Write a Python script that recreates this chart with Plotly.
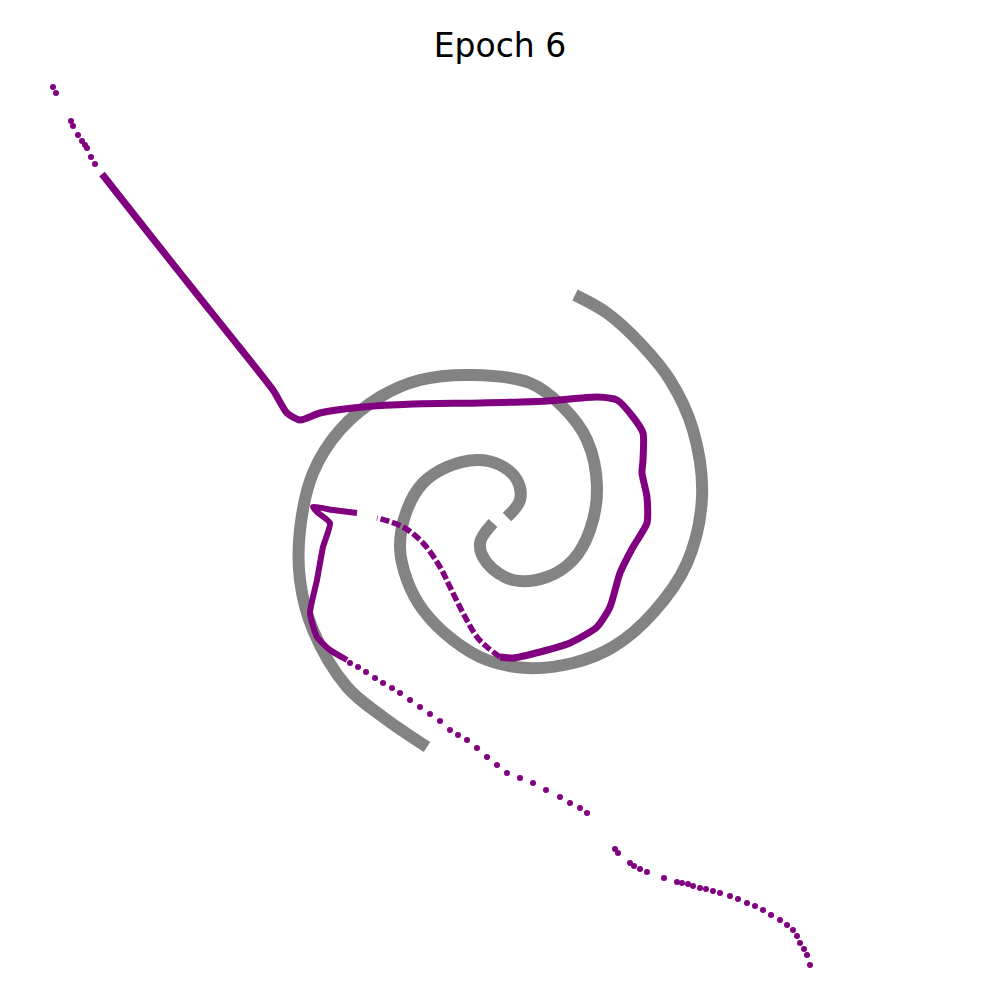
import plotly.graph_objects as go

# Coordinates (x to the right, y downward, 0..1000)
arm_a_x = [507, 520, 517, 500, 477, 447, 423, 407, 400, 407, 423, 453, 487, 527, 573, 613, 653, 687, 702, 693, 670, 640, 607, 575]
arm_a_y = [517, 500, 480, 465, 460, 467, 483, 510, 547, 580, 610, 640, 660, 668, 663, 647, 613, 563, 497, 430, 380, 343, 313, 295]

arm_b_x = [493, 480, 487, 513, 547, 573, 590, 597, 587, 563, 530, 473, 420, 380, 340, 313, 300, 300, 313, 347, 383, 427]
arm_b_y = [523, 543, 563, 580, 577, 560, 530, 487, 440, 407, 383, 375, 380, 397, 430, 473, 530, 580, 630, 687, 717, 747]

dots_top_x = [53, 56, 71, 73, 78, 82, 85, 87, 91, 95]
dots_top_y = [87, 93, 121, 126, 135, 141, 145, 148, 157, 164]

main_x = [102, 150, 200, 240, 273, 287, 300, 320, 363, 413, 480, 547, 597, 617, 633, 643, 643, 642, 647, 647, 633, 620, 610, 597, 570, 540, 513, 500]
main_y = [174, 235, 298, 348, 390, 413, 420, 413, 407, 404, 403, 401, 397, 400, 417, 433, 460, 473, 497, 523, 547, 573, 607, 627, 643, 652, 658, 657]

dash_x = [500, 487, 477, 463, 450, 440, 423, 403, 377]
dash_y = [657, 647, 637, 613, 587, 567, 543, 527, 518]

hook_x = [357, 333, 313, 317, 330, 323, 317, 310, 317, 330, 347]
hook_y = [513, 510, 507, 512, 523, 547, 580, 613, 637, 650, 660]

tail_x = [350, 358, 366, 375, 383, 392, 400, 410, 420, 430, 440, 450, 458, 467, 477, 487, 497, 507, 520, 533, 546, 560, 570, 580, 587]
tail_y = [663, 667, 672, 678, 683, 688, 693, 700, 707, 714, 721, 730, 735, 740, 748, 757, 765, 773, 778, 783, 790, 797, 803, 808, 813]

end_x = [615, 618, 630, 634, 640, 647, 664, 677, 682, 688, 693, 700, 706, 713, 720, 730, 738, 747, 755, 763, 771, 780, 787, 793, 797, 800, 804, 807, 810]
end_y = [849, 853, 863, 866, 869, 872, 878, 882, 883, 884, 886, 888, 889, 891, 893, 896, 899, 903, 906, 910, 915, 920, 925, 930, 936, 943, 949, 955, 965]

GRAY = "#808080"
PURPLE = "#800080"

fig = go.Figure()
for xs, ys in [(arm_a_x, arm_a_y), (arm_b_x, arm_b_y)]:
    fig.add_trace(go.Scatter(x=xs, y=ys, mode="lines",
                             line=dict(color=GRAY, width=12, shape="spline", smoothing=1.0),
                             opacity=0.97, hoverinfo="skip", showlegend=False))

fig.add_trace(go.Scatter(x=main_x, y=main_y, mode="lines",
                         line=dict(color=PURPLE, width=7, shape="spline", smoothing=0.6),
                         showlegend=False))
fig.add_trace(go.Scatter(x=dash_x, y=dash_y, mode="lines",
                         line=dict(color=PURPLE, width=5.5, shape="spline", dash="9px,3px"),
                         showlegend=False))
fig.add_trace(go.Scatter(x=hook_x, y=hook_y, mode="lines",
                         line=dict(color=PURPLE, width=6, shape="spline", smoothing=0.5),
                         showlegend=False))
for xs, ys in [(dots_top_x, dots_top_y), (tail_x, tail_y), (end_x, end_y)]:
    fig.add_trace(go.Scatter(x=xs, y=ys, mode="markers",
                             marker=dict(color=PURPLE, size=6, line=dict(width=0)),
                             showlegend=False))

fig.update_layout(
    width=1000, height=1000,
    margin=dict(l=0, r=0, t=0, b=0),
    paper_bgcolor="white", plot_bgcolor="white",
    title=dict(text="Epoch 6", x=0.492, xanchor="center", y=0.963, yanchor="middle",
               font=dict(family="DejaVu Sans", size=33, color="black")),
    xaxis=dict(range=[8, 1008], visible=False),
    yaxis=dict(range=[1008, 8], visible=False),
)

fig.write_html("out.html")
